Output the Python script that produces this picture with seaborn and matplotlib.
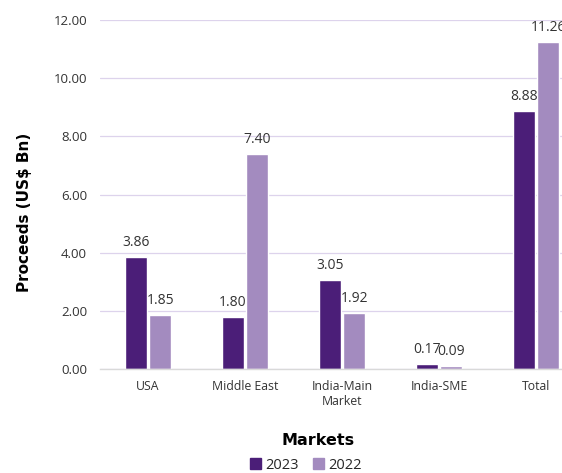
import matplotlib
matplotlib.use("Agg")
import matplotlib.pyplot as plt
import seaborn as sns
import pandas as pd
from matplotlib.patches import Patch

categories = ["USA", "Middle East", "India-Main\nMarket", "India-SME", "Total"]
values_2023 = [3.86, 1.80, 3.05, 0.17, 8.88]
values_2022 = [1.85, 7.40, 1.92, 0.09, 11.26]
series = ["2023", "2022"]
yticks = [0, 2, 4, 6, 8, 10, 12]

df = pd.DataFrame({
    "Market": categories * 2,
    "Year": [series[0]] * len(categories) + [series[1]] * len(categories),
    "Value": values_2023 + values_2022,
})

sns.set_theme(style="white")
plt.rcParams["font.family"] = ["Open Sans", "DejaVu Sans"]

fig = plt.figure(figsize=(5.62, 4.73), dpi=100)
W, H = 562, 473
left, right, top, bottom = 99.5, 584.5, 20, 369
ax = fig.add_axes([left / W, (H - bottom) / H, (right - left) / W, (bottom - top) / H])

palette = {"2023": "#4B1E78", "2022": "#A38BBF"}
sns.barplot(data=df, x="Market", y="Value", hue="Year", palette=palette,
            width=0.505, gap=0.1, ax=ax, legend=False, saturation=1)

ax.set_ylim(0, 12)
ax.set_xlim(-0.5, len(categories) - 0.5)
ax.set_yticks(yticks)
ax.set_yticklabels([f"{v:.2f}" for v in yticks], fontsize=9.5, color="#333333")
ax.tick_params(axis="y", length=0, pad=9)
ax.tick_params(axis="x", length=0, pad=8, labelsize=8.8, colors="#333333")
ax.grid(axis="y", color="#DDD3EC", linewidth=0.9)
ax.set_axisbelow(True)
for s in ["top", "right", "left"]:
    ax.spines[s].set_visible(False)
ax.spines["bottom"].set_color("#D9D9D9")
ax.spines["bottom"].set_linewidth(1)

for cont in ax.containers:
    ax.bar_label(cont, fmt="%.2f", padding=5, fontsize=10, color="#333333")

fig.text(25 / W, 1 - 212 / H, "Proceeds (US$ Bn)", rotation=90, ha="center", va="center",
         fontsize=11, fontweight="bold", color="black", family=["DejaVu Sans"])
ax.set_ylabel("")
ax.set_xlabel("")
fig.text(318 / W, 1 - 440 / H, "Markets", ha="center", va="center",
         fontsize=11.5, fontweight="bold", color="black", family=["DejaVu Sans"])

handles = [Patch(color=palette[s]) for s in series]
fig.legend(handles, series, loc="center", bbox_to_anchor=(306 / W, 1 - 465 / H),
           ncol=2, frameon=False, fontsize=10.5, handlelength=0.75, handleheight=0.75,
           handletextpad=0.3, columnspacing=1.0, borderaxespad=0, borderpad=0)

fig.savefig("out.png", dpi=100)
